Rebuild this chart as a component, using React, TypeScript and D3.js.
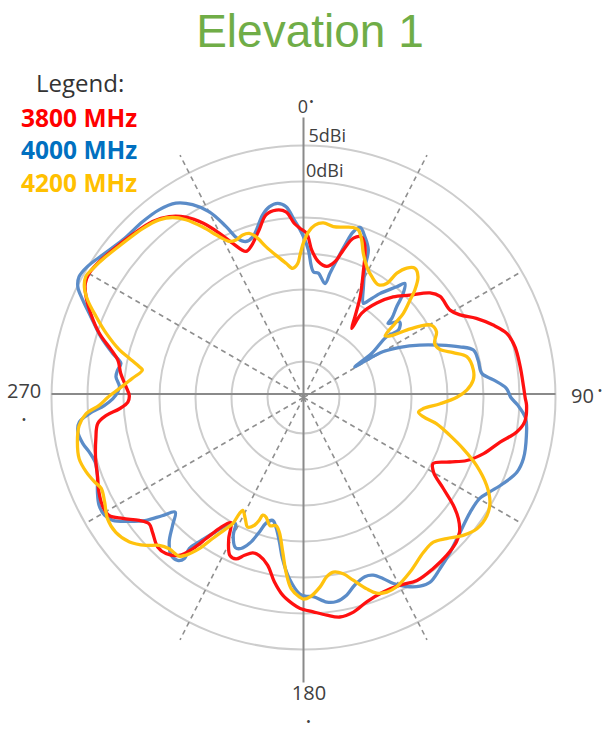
import React from 'react'
import * as d3 from 'd3'

// [angle in degrees clockwise from top, gain in dBi]
const red3800: [number, number][] = [
  [358.8, -6.5], [1.1, -7.2], [3.2, -9.5], [6.2, -11.0], [10.0, -11.5], [13.1, -10.6], [15.1, -8.8], [17.4, -6.8],
  [19.9, -6.3], [22.2, -7.4], [25.7, -10.9], [29.3, -13.9], [32.5, -16.7], [34.9, -18.3], [34.6, -15.8], [37.8, -13.4],
  [41.7, -11.3], [46.1, -9.5], [50.4, -7.2], [53.5, -6.4], [59.2, -6.3], [62.2, -5.4], [65.4, -3.6], [69.1, -1.8],
  [72.5, -0.4], [76.5, 0.2], [81.9, 0.4], [87.2, 0.6], [90.2, 0.8], [92.0, 1.0], [96.3, 0.9], [99.2, 0.0],
  [102.8, -2.0], [107.3, -3.8], [111.1, -5.7], [113.8, -7.8], [117.0, -9.8], [119.8, -9.2], [123.1, -6.8], [125.7, -4.4],
  [128.0, -2.7], [130.7, -1.4], [133.3, -0.8], [137.8, -0.4], [142.8, -0.2], [148.2, -0.1], [152.8, -0.7], [157.7, -0.8],
  [162.8, -0.3], [166.9, 0.6], [170.6, 0.9], [173.9, 0.4], [177.4, -0.2], [180.9, -0.7], [183.0, -1.3], [186.0, -2.4],
  [189.0, -4.1], [192.1, -6.2], [195.6, -7.2], [198.1, -7.3], [200.5, -6.6], [202.7, -5.7], [205.0, -5.8], [207.9, -7.8],
  [210.1, -9.9], [212.7, -8.4], [214.6, -6.2], [216.2, -4.0], [218.2, -2.1], [221.4, -1.1], [224.3, -1.0], [228.3, -1.9],
  [230.7, -2.3], [233.2, -1.5], [236.2, 0.2], [238.8, 1.6], [241.8, 1.7], [245.2, 1.3], [249.3, 0.6], [253.6, 0.1],
  [258.8, -0.6], [262.8, -1.2], [264.8, -2.5], [266.5, -4.4], [268.5, -5.6], [270.7, -5.8], [273.5, -5.3], [277.5, -4.4],
  [281.4, -3.7], [283.9, -2.5], [287.4, -0.3], [291.6, 1.8], [294.9, 3.3], [297.6, 4.2], [300.1, 4.4], [302.6, 4.2],
  [307.7, 3.5], [313.6, 2.8], [319.4, 2.2], [323.4, 1.3], [326.9, -0.1], [330.1, -2.1], [332.9, -4.4], [335.3, -6.4],
  [338.5, -8.2], [340.8, -7.8], [345.2, -5.9], [348.4, -4.1], [351.7, -3.7], [354.6, -4.1], [357.0, -5.8],
]

const blue4000: [number, number][] = [
  [0.5, -8.1], [1.9, -9.5], [4.5, -12.5], [6.8, -12.6], [10.7, -13.9], [12.0, -12.4], [13.6, -10.4], [15.2, -8.1],
  [16.7, -6.0], [18.4, -5.1], [20.9, -6.1], [23.7, -7.6], [25.2, -9.9], [28.4, -12.5], [32.4, -14.5], [33.4, -14.1],
  [36.3, -12.1], [40.1, -9.9], [41.6, -8.8], [43.8, -10.0], [45.7, -11.9], [48.1, -13.5], [48.8, -14.4], [51.8, -13.0],
  [54.6, -13.8], [53.8, -15.7], [57.1, -18.7], [59.1, -21.7], [59.3, -19.8], [60.1, -17.2], [62.5, -14.9], [65.7, -12.3],
  [69.0, -9.7], [72.0, -7.2], [74.4, -5.5], [77.9, -5.2], [82.3, -5.0], [84.7, -3.5], [87.4, -1.8], [90.0, -1.2],
  [92.1, -0.2], [95.4, 1.0], [99.6, 1.4], [105.5, 1.7], [109.3, 1.4], [113.3, 0.2], [116.9, -1.0], [119.8, -1.8],
  [124.5, -1.9], [130.7, -1.3], [136.5, -0.4], [141.4, 0.4], [145.6, 1.1], [148.3, 0.8], [151.4, -0.1], [154.2, -1.3],
  [156.2, -2.5], [158.6, -3.5], [161.1, -3.7], [164.7, -3.0], [167.7, -1.9], [170.8, -1.3], [173.5, -1.4], [177.2, -2.3],
  [179.5, -2.4], [181.2, -2.75], [184.5, -4.8], [187.4, -7.4], [189.5, -9.7], [192.0, -11.6], [194.1, -12.4], [196.6, -11.8],
  [198.2, -10.3], [200.3, -8.4], [202.5, -7.3], [204.4, -7.1], [207.0, -8.5], [208.4, -10.1], [211.2, -9.2], [213.7, -7.3],
  [215.8, -5.3], [217.1, -3.7], [216.5, -2.2], [217.7, -1.4], [220.0, -1.4], [222.9, -2.6], [225.7, -4.6], [228.2, -6.1],
  [230.1, -4.4], [232.0, -2.3], [234.6, -0.3], [237.2, 1.5], [239.4, 2.1], [242.2, 2.1], [245.3, 1.5], [249.3, 0.6],
  [252.8, 0.3], [255.7, 0.7], [258.2, 1.3], [261.3, 1.7], [263.8, 1.3], [265.7, -0.2], [267.7, -2.3], [269.6, -3.5],
  [271.7, -4.2], [273.4, -4.4], [276.3, -3.8], [278.4, -3.9], [280.6, -4.2], [283.0, -2.8], [286.7, -0.6], [290.8, 1.6],
  [293.8, 3.5], [296.1, 4.9], [298.3, 5.4], [301.2, 5.1], [305.4, 4.2], [311.1, 3.3], [317.6, 3.1], [322.4, 2.9],
  [326.7, 2.3], [330.1, 0.9], [333.1, -1.1], [335.6, -3.9], [337.5, -6.1], [339.7, -6.9], [342.5, -6.6], [347.4, -4.0],
  [349.8, -3.1], [352.4, -2.8], [354.8, -3.4], [357.0, -5.3], [358.6, -6.5],
]

const yellow4200: [number, number][] = [
  [359.9, -8.6], [1.7, -7.0], [3.8, -6.0], [6.5, -5.6], [9.9, -5.9], [13.2, -5.7], [16.3, -5.4], [18.1, -5.5],
  [20.3, -6.7], [22.5, -8.3], [25.8, -9.8], [29.4, -10.7], [33.6, -11.2], [36.1, -10.4], [36.9, -8.4], [38.6, -7.0],
  [40.8, -6.3], [43.5, -6.9], [46.0, -8.5], [47.5, -9.9], [49.9, -11.9], [51.0, -13.6], [53.0, -15.8], [55.2, -14.8],
  [56.8, -12.9], [58.5, -11.0], [60.5, -9.6], [63.7, -9.4], [67.6, -10.3], [70.6, -9.9], [73.3, -8.3], [76.0, -6.6],
  [80.8, -6.1], [84.1, -6.3], [87.4, -7.3], [89.9, -8.7], [92.6, -11.0], [95.3, -13.3], [97.2, -13.9], [99.2, -13.1],
  [101.1, -11.2], [104.5, -9.0], [107.8, -6.7], [111.4, -4.2], [115.6, -1.8], [119.3, -0.3], [122.8, 0.3], [127.1, 0.2],
  [130.8, -0.7], [134.6, -2.1], [138.1, -3.0], [142.2, -2.8], [148.6, -1.6], [153.8, -0.7], [156.8, -0.6], [159.5, -1.0],
  [161.7, -2.0], [164.8, -3.7], [167.3, -4.9], [170.3, -5.4], [172.6, -4.9], [175.0, -3.6], [178.1, -2.3], [180.0, -2.0],
  [181.2, -2.3], [183.7, -3.4], [185.7, -5.6], [187.7, -8.4], [190.2, -11.0], [192.1, -11.8], [194.7, -11.6], [197.4, -12.6],
  [199.1, -12.7], [199.8, -11.9], [201.0, -11.0], [203.3, -10.4], [205.6, -11.3], [208.3, -12.2], [208.9, -11.6], [209.3, -9.9],
  [210.6, -8.8], [212.8, -6.7], [214.6, -4.5], [216.7, -2.7], [218.1, -2.0], [221.6, -1.9], [224.3, -1.3], [226.8, 0.0],
  [230.3, 1.4], [234.3, 2.1], [238.3, 2.0], [242.3, 1.2], [245.8, 0.8], [248.0, 1.3], [251.1, 1.9], [254.7, 2.3],
  [258.9, 2.0], [262.9, 1.4], [265.7, 0.3], [267.8, -1.6], [270.0, -2.8], [272.8, -4.4], [276.4, -6.1], [279.7, -7.3],
  [280.6, -6.8], [282.7, -5.2], [284.5, -3.6], [288.0, -1.2], [291.3, 0.9], [294.3, 2.9], [296.8, 4.1], [299.1, 4.6],
  [301.5, 4.3], [305.5, 3.7], [310.4, 3.0], [316.4, 2.4], [320.9, 1.8], [324.0, 0.9], [326.5, -0.4], [329.4, -2.5],
  [332.4, -4.8], [334.6, -6.0], [336.8, -6.2], [339.5, -5.9], [341.7, -6.0], [343.5, -6.7], [346.0, -8.4], [349.1, -9.9],
  [352.6, -11.2], [355.2, -12.0], [357.5, -11.4], [358.6, -10.2],
]

const legendLabels = ['3800 MHz', '4000 MHz', '4200 MHz']
const legendColors = ['#ff0000', '#0070c0', '#ffc000']
const lineColors = ['#ff1010', '#5b8cc8', '#ffc20e']
const ringLevels = [-25, -20, -15, -10, -5, 0, 5]
const spokeAngles = [27, 60, 120, 153, 207, 240, 300, 333]

const W = 606
const H = 739
const cx = 303.5
const cy = 397.5
const R = 252

export default function App() {
  const r = d3.scaleLinear().domain([-30, 5]).range([0, R])
  const line = d3
    .lineRadial<[number, number]>()
    .angle(d => (d[0] * Math.PI) / 180)
    .radius(d => r(d[1]))
    .curve(d3.curveCatmullRomClosed.alpha(0.5))

  const series = [red3800, blue4000, yellow4200]
  // blue underneath, then red, yellow on top
  const drawOrder = [1, 0, 2]
  const txt = '#404040'
  const font = "'Open Sans', sans-serif"

  return (
    <svg width={W} height={H} style={{ position: 'absolute', left: 0, top: 0, background: '#fff' }}>
      <text x={310} y={47} textAnchor="middle" fontFamily="'Liberation Sans', Arial, sans-serif" fontSize={46} fill="#70ad47">
        Elevation 1
      </text>

      <g transform={`translate(${cx},${cy})`}>
        {ringLevels.map(v => (
          <circle key={v} r={r(v)} fill="none" stroke="#cdcdcd" strokeWidth={2} />
        ))}
        {spokeAngles.map(a => {
          const t = (a * Math.PI) / 180
          const len = Math.abs(Math.cos(t)) > 0.7 ? R + 20 : R - 2
          return (
            <line key={a} x1={0} y1={0} x2={len * Math.sin(t)} y2={-len * Math.cos(t)}
              stroke="#8f8f8f" strokeWidth={1.6} strokeDasharray="5,4" />
          )
        })}
        <line x1={0} x2={0} y1={-R - 28} y2={R + 33} stroke="#8a8a8a" strokeWidth={2} />
        <line x1={-R} x2={R} y1={-3.5} y2={-3.5} stroke="#8a8a8a" strokeWidth={2} />

        {drawOrder.map(i => (
          <path key={i} d={line(series[i]) as string} fill="none" stroke={lineColors[i]} strokeWidth={3.3}
            strokeLinejoin="round" />
        ))}
      </g>

      <g fontFamily={font} fill={txt}>
        <text x={cx - 0.5} y={113} fontSize={18} textAnchor="middle">0</text>
        <text x={311.5} y={106} fontSize={13} textAnchor="middle">•</text>
        <text x={308.5} y={141.5} fontSize={18}>5dBi</text>
        <text x={306} y={176.5} fontSize={18}>0dBi</text>
        <text x={571} y={403} fontSize={20}>90</text>
        <text x={600} y={395} fontSize={13} textAnchor="middle">•</text>
        <text x={7} y={398} fontSize={20}>270</text>
        <text x={24} y={424} fontSize={13} textAnchor="middle">•</text>
        <text x={309} y={700} fontSize={20} textAnchor="middle">180</text>
        <text x={308.5} y={726} fontSize={13} textAnchor="middle">•</text>
      </g>

      <g fontFamily={font}>
        <text x={36} y={92} fontSize={24} fill="#333">Legend:</text>
        {legendLabels.map((l, i) => (
          <text key={l} x={21} y={126.5 + i * 32.5} fontSize={24.5} fontWeight="bold" fill={legendColors[i]}>
            {l}
          </text>
        ))}
      </g>
    </svg>
  )
}
